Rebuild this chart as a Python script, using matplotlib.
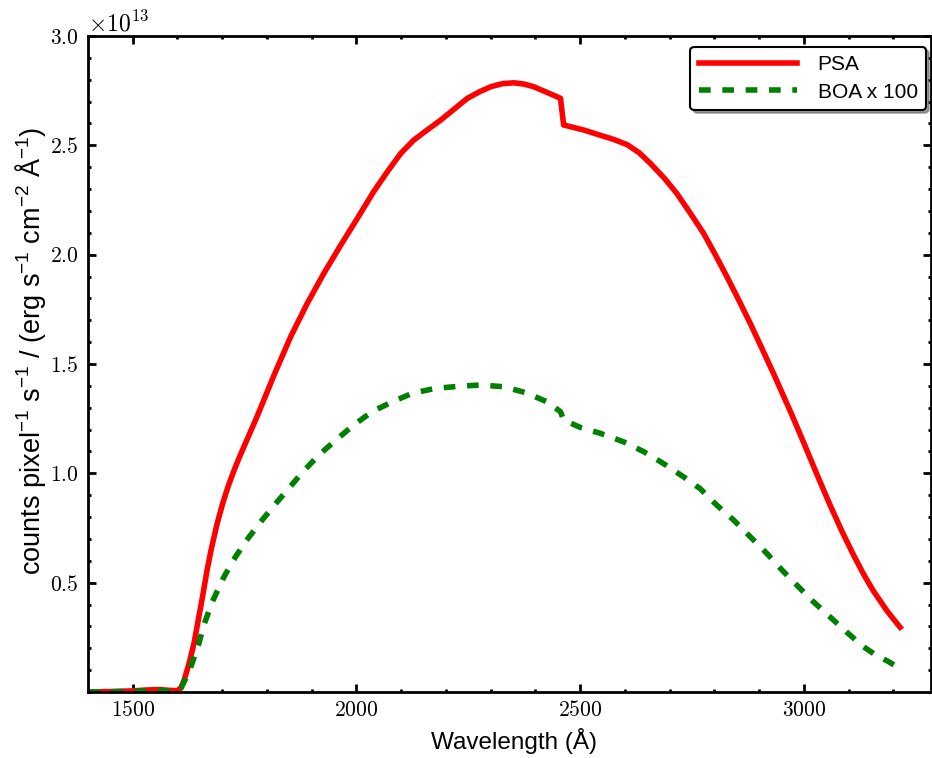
import matplotlib
matplotlib.use("Agg")
import matplotlib.pyplot as plt
from matplotlib.ticker import MultipleLocator, FixedLocator

# --- данные (y в единицах 1e13) ---
psa_wave = [1400, 1450, 1500, 1530, 1560, 1585, 1600, 1608, 1615, 1626, 1637, 1656,
            1666, 1675, 1688, 1701, 1714, 1726, 1738, 1779, 1816, 1853, 1890, 1927, 1965, 2002,
            2039, 2069, 2099, 2128, 2158, 2188, 2218, 2248, 2275, 2300, 2326,
            2352, 2375, 2396, 2426, 2456, 2463, 2485, 2508, 2545, 2575, 2605, 2632,
            2657, 2688, 2716, 2746, 2776, 2802, 2828, 2855, 2880, 2906, 2932,
            2973, 2999, 3030, 3058, 3085, 3111, 3133, 3155, 3185, 3200, 3215]
psa_flux = [0.0, 0.002, 0.005, 0.009, 0.011, 0.007, 0.006, 0.02, 0.055, 0.131, 0.223, 0.436,
            0.555, 0.648, 0.765, 0.862, 0.945, 1.011, 1.072, 1.265, 1.45, 1.625, 1.777, 1.914, 2.044, 2.166,
            2.29, 2.379, 2.463, 2.524, 2.57, 2.615, 2.665, 2.715, 2.745, 2.768, 2.782,
            2.786, 2.78, 2.768, 2.742, 2.715, 2.593, 2.582, 2.57, 2.546, 2.527, 2.503, 2.466,
            2.417, 2.35, 2.28, 2.19, 2.097, 2.0, 1.899, 1.79, 1.686, 1.572, 1.457,
            1.268, 1.143, 0.991, 0.857, 0.735, 0.626, 0.54, 0.463, 0.373, 0.334, 0.296]

boa_wave = [1400, 1450, 1500, 1550, 1590, 1600, 1608, 1618, 1630, 1648, 1659, 1678,
            1701, 1723, 1753, 1786, 1816, 1849, 1879, 1916, 1954, 1994, 2035,
            2080, 2125, 2177, 2230, 2277, 2329, 2378, 2426, 2456, 2463, 2500,
            2545, 2597, 2642, 2686, 2731, 2768, 2805, 2843, 2880, 2917, 2950,
            2984, 3020, 3058, 3095, 3133, 3160, 3189, 3214]
boa_flux = [0.0, 0.001, 0.003, 0.006, 0.004, 0.005, 0.018, 0.06, 0.116, 0.223, 0.306, 0.413,
            0.515, 0.597, 0.69, 0.778, 0.853, 0.932, 1.004, 1.084, 1.152, 1.221, 1.282,
            1.327, 1.366, 1.389, 1.398, 1.404, 1.396, 1.369, 1.327, 1.282, 1.244, 1.21,
            1.183, 1.144, 1.099, 1.045, 0.984, 0.93, 0.855, 0.786, 0.71, 0.634, 0.56,
            0.489, 0.415, 0.344, 0.275, 0.207, 0.17, 0.139, 0.108]

labels = ["PSA", "BOA x 100"]
x_ticks = [1500, 2000, 2500, 3000]
y_ticks = [0.5, 1.0, 1.5, 2.0, 2.5, 3.0]

plt.rcParams['font.family'] = ['Liberation Sans', 'DejaVu Sans']
plt.rcParams['mathtext.fontset'] = 'cm'
plt.rcParams['axes.formatter.use_mathtext'] = True

fig = plt.figure(figsize=(9.32, 7.58), dpi=100)
ax = fig.add_axes([0.0944, 0.0871, 0.9045, 0.8654])

scale = 1e13
ax.plot(psa_wave, [v * scale for v in psa_flux], color='red', lw=4,
        label=labels[0])
ax.plot(boa_wave, [v * scale for v in boa_flux], color='green', lw=4,
        dashes=(2.1, 2.1), label=labels[1])

ax.set_xlim(1400, 3284)
ax.set_ylim(0, 3.0e13)

ax.xaxis.set_major_locator(FixedLocator(x_ticks))
ax.xaxis.set_minor_locator(MultipleLocator(100))
ax.yaxis.set_major_locator(FixedLocator([v * scale for v in y_ticks]))
ax.yaxis.set_minor_locator(MultipleLocator(0.1e13))

ax.tick_params(which='both', direction='in', top=True, right=True)
ax.tick_params(which='major', length=6, width=2, labelsize=15.5,
               labelfontfamily='cmr10')
ax.tick_params(which='minor', length=2.5, width=2)
ax.tick_params(axis='y', which='major', pad=7)
ax.tick_params(axis='x', which='major', pad=6)
for sp in ax.spines.values():
    sp.set_linewidth(2)

off = ax.yaxis.get_offset_text()
off.set_fontfamily('cmr10')
off.set_fontsize(17)

ax.set_xlabel('Wavelength (Å)', fontsize=17.5, labelpad=1)
ax.set_ylabel(r'counts pixel$\mathregular{^{-1}}$ s$\mathregular{^{-1}}$ / '
              r'(erg s$\mathregular{^{-1}}$ cm$\mathregular{^{-2}}$ Å$\mathregular{^{-1}}$)',
              fontsize=19.5)
ax.xaxis.set_label_coords(0.505, -0.055)
ax.yaxis.set_label_coords(-0.047, 0.52)

leg = ax.legend(loc='upper right', bbox_to_anchor=(1 - 5 / 843, 1 - 11 / 656),
                borderaxespad=0, fontsize=15, handlelength=4.7, handletextpad=1.0,
                labelspacing=0.4, shadow=True, fancybox=True, framealpha=1,
                edgecolor='black')
leg.get_frame().set_linewidth(1.5)

fig.savefig('out.png', dpi=100)
